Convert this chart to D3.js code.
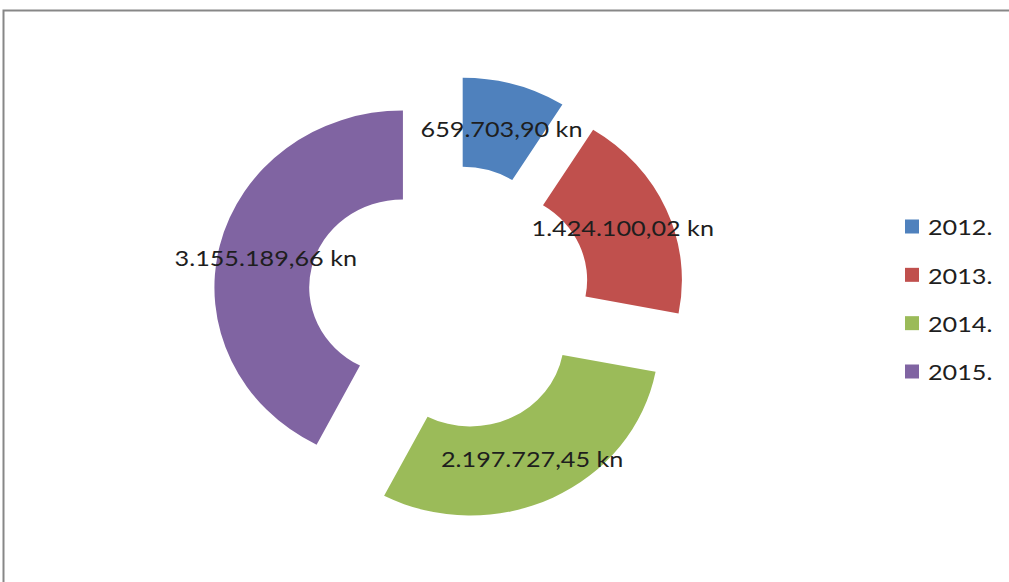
<!DOCTYPE html>
<html>
<head>
<meta charset="utf-8">
<script src="https://cdnjs.cloudflare.com/ajax/libs/d3/7.8.5/d3.min.js"></script>
<style>
body { margin: 0; background: #fff; }
svg { display: block; }
text { font-family: Lato, "Open Sans", sans-serif; fill: #1e1e1e; }
</style>
</head>
<body>
<svg></svg>
<script>
var years = ["2012.", "2013.", "2014.", "2015."];
var values = [659703.90, 1424100.02, 2197727.45, 3155189.66];
var valueLabels = ["659.703,90 kn", "1.424.100,02 kn", "2.197.727,45 kn", "3.155.189,66 kn"];
var colors = ["#4F81BD", "#C0504D", "#9BBB59", "#8064A2"];

var W = 1009, H = 582;
var center = {x: 449.5, y: 298};
var stretch = 1.065;     // picture is a bit wider than tall
var outerR = 177, innerR = 88, explode = 45;
var textStretch = 1.2;

var svg = d3.select("svg").attr("width", W).attr("height", H);

// chart frame (right and bottom edges run off the picture)
svg.append("rect")
  .attr("x", 3.5).attr("y", 10.5)
  .attr("width", W + 20).attr("height", H + 20)
  .attr("fill", "none")
  .attr("stroke", "#878787")
  .attr("stroke-width", 2);

var pie = d3.pie().sort(null).value(function(d){ return d.value; });
var slices = pie(years.map(function(y, i){ return {year: y, value: values[i], label: valueLabels[i], color: colors[i]}; }));

var arc = d3.arc().innerRadius(innerR).outerRadius(outerR);

function offset(d, r) {
  var a = (d.startAngle + d.endAngle) / 2;
  return [Math.sin(a) * r, -Math.cos(a) * r];
}

var ring = svg.append("g")
  .attr("transform", "translate(" + center.x + "," + center.y + ") scale(" + stretch + ",1)");

ring.selectAll("path")
  .data(slices)
  .enter()
  .append("path")
  .attr("d", arc)
  .attr("fill", function(d){ return d.data.color; })
  .attr("transform", function(d){
    var o = offset(d, explode);
    return "translate(" + o[0] + "," + o[1] + ")";
  });

// data labels sit in the middle of each ring piece
svg.append("g").selectAll("text")
  .data(slices)
  .enter()
  .append("text")
  .attr("text-anchor", "middle")
  .attr("dy", "0.35em")
  .style("font-size", "21px")
  .attr("transform", function(d){
    var o = offset(d, explode + (innerR + outerR) / 2);
    return "translate(" + (center.x + o[0] * stretch) + "," + (center.y + o[1] + 2) + ") scale(" + textStretch + ",1)";
  })
  .text(function(d){ return d.data.label; });

// legend
var legendY = d3.scalePoint().domain(years).range([226.5, 371.5]);
var legend = svg.append("g").selectAll("g")
  .data(slices)
  .enter()
  .append("g")
  .attr("transform", function(d){ return "translate(905," + legendY(d.data.year) + ")"; });

legend.append("rect")
  .attr("x", 0).attr("y", -7)
  .attr("width", 14).attr("height", 14)
  .attr("fill", function(d){ return d.data.color; });

legend.append("text")
  .attr("dy", "0.35em")
  .style("font-size", "21px")
  .attr("transform", "translate(23,1.5) scale(" + textStretch + ",1)")
  .text(function(d){ return d.data.year; });
</script>
</body>
</html>
